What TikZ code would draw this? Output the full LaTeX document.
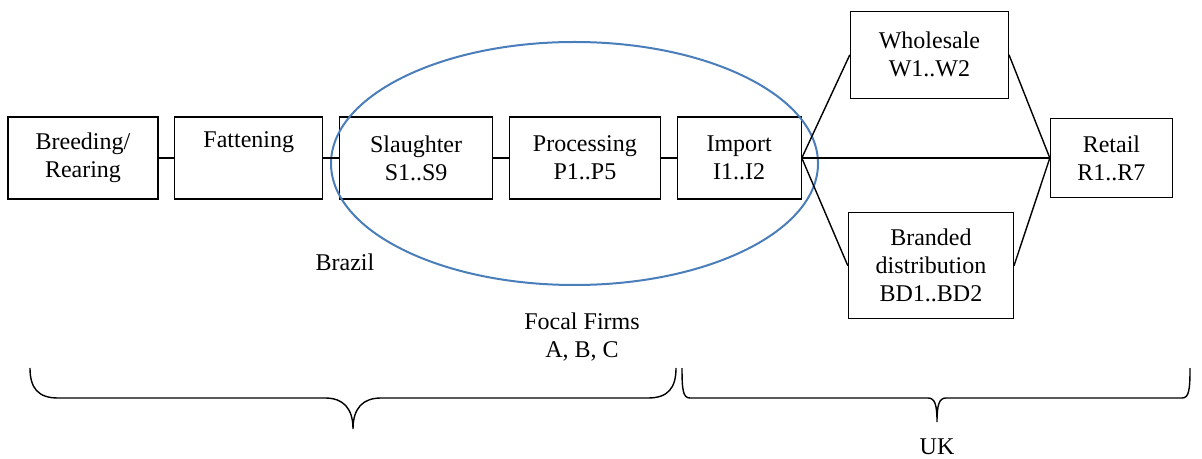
\documentclass[tikz,border=0pt]{standalone}
\usepackage{fontspec}
\setmainfont{Liberation Serif}
\usepackage{tikz}
\usetikzlibrary{positioning,shapes}
\definecolor{ringblue}{RGB}{74,126,187}
\tikzstyle{st}=[%
      rectangle, draw=black, line width=0.6pt, fill=none,
      minimum height=41pt, inner sep=2pt, align=center,
      font=\fontsize{12}{14}\selectfont
]
\tikzstyle{lk}=[%
      draw=black, line width=0.7pt
]
\tikzstyle{lb}=[%
      align=center, inner sep=1pt, font=\fontsize{12}{14}\selectfont
]

\begin{document}
\begin{tikzpicture}[x=0.5pt, y=-0.5pt, node distance=7.8pt]
\useasboundingbox (0,0) rectangle (1202,459);
\node[st, minimum width=75pt](breed) at (83,158){Breeding/\\Rearing};
\node[st, minimum width=74pt, right=of breed](fatten){Fattening\\\strut};
\node[st, minimum width=76.5pt, right=of fatten](slaughter){Slaughter\\S1..S9};
\node[st, minimum width=75.5pt, right=of slaughter](process){Processing\\P1..P5};
\node[st, minimum width=62pt, right=of process](import){Import\\I1..I2};
\node[st, minimum width=79pt, minimum height=43.5pt, above right=8.75pt and 24pt of import](wholesale){Wholesale\\W1..W2};
\node[st, minimum width=82.5pt, minimum height=53pt, below right=6.25pt and 23pt of import](branded){Branded\\distribution\\BD1..BD2};
\node[st, minimum width=61pt, minimum height=39.5pt, right=124pt of import](retail){Retail\\R1..R7};

\node[ellipse, draw=ringblue, line width=1pt, inner sep=0pt, minimum width=243.5pt, minimum height=121.5pt](focal) at (574.5,163.5){};
\node[lb](brazil) at (345,262){Brazil};
\node[lb](firms) at (582,337){Focal Firms\\A, B, C};
\node[lb](uk) at (937,447){UK};

\draw[lk](breed) -- (fatten);
\draw[lk](fatten) -- (slaughter);
\draw[lk](slaughter) -- (process);
\draw[lk](process) -- (import);
\draw[lk](import.east) -- (wholesale.west);
\draw[lk](import.east) -- (branded.west);
\draw[lk](import.east) -- (retail.west);
\draw[lk](wholesale.east) -- (retail.west);
\draw[lk](branded.east) -- (retail.west);

\draw[lk](30,368) .. controls (30,388) and (38,398) .. (58,398) -- (325,398)
  .. controls (343,398) and (353,408) .. (353,429)
  .. controls (353,408) and (363,398) .. (381,398) -- (648,398)
  .. controls (668,398) and (676,388) .. (676,368);
\draw[lk](682,368) .. controls (682,390) and (683,398) .. (690,398) -- (928,398)
  .. controls (935,398) and (937,405) .. (937,422)
  .. controls (937,405) and (939,398) .. (946,398) -- (1182,398)
  .. controls (1189,398) and (1190,390) .. (1190,368);
\end{tikzpicture}
\end{document}
